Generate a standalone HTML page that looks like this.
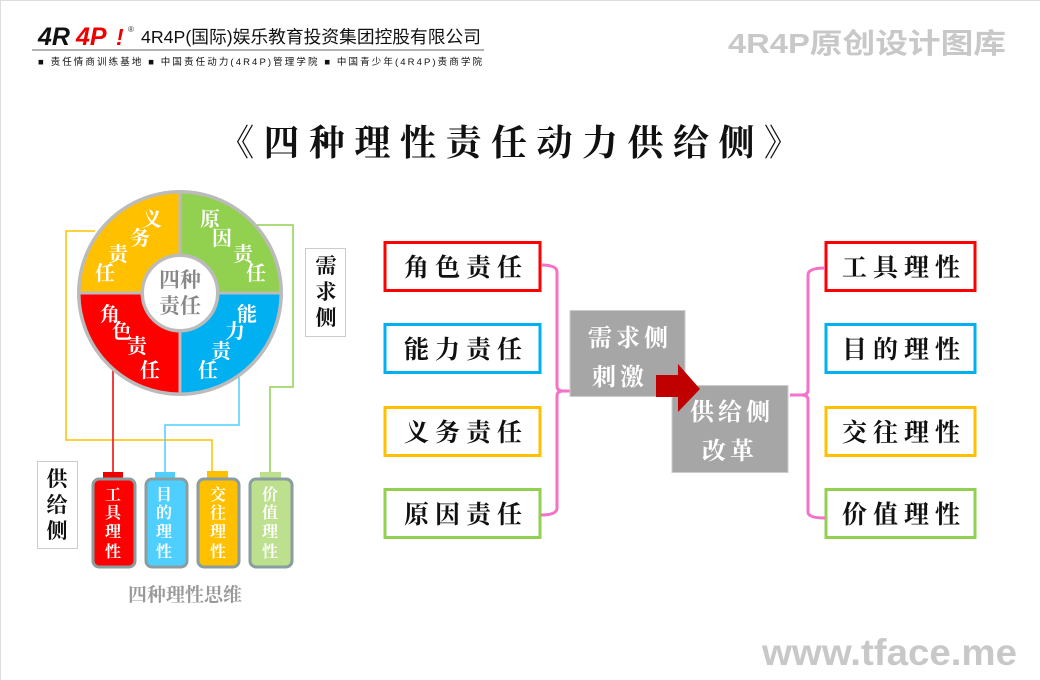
<!DOCTYPE html>
<html><head><meta charset="utf-8"><style>
html,body{margin:0;padding:0;background:#fff;}
svg{display:block;}
text{font-family:"Liberation Serif","Noto Serif CJK SC",serif;}
.s{font-family:"Liberation Sans","Noto Sans CJK SC",sans-serif;}
</style></head><body>
<svg width="1040" height="680" viewBox="0 0 1040 680" xmlns="http://www.w3.org/2000/svg">
<rect x="0" y="0" width="1040" height="680" fill="#fff"/>
<line x1="0" y1="0.5" x2="1040" y2="0.5" stroke="#ddd"/>
<line x1="0.5" y1="0" x2="0.5" y2="680" stroke="#ddd"/>
<!-- header -->
<text x="38" y="45" class="s" font-size="25" font-weight="bold" font-style="italic" fill="#111">4R</text>
<text x="76" y="45" class="s" font-size="25" font-weight="bold" font-style="italic" fill="#e00">4P</text>
<text x="116" y="45" class="s" font-size="23" font-weight="bold" font-style="italic" fill="#e00">!</text>
<text x="128" y="32" class="s" font-size="8" fill="#333">®</text>
<text x="141" y="43" class="s" font-size="17.5" fill="#111" textLength="340" lengthAdjust="spacingAndGlyphs">4R4P(国际)娱乐教育投资集团控股有限公司</text>
<line x1="32" y1="50" x2="484" y2="50" stroke="#999" stroke-width="1.5"/>
<text x="38" y="65" class="s" font-size="9.5" fill="#111" textLength="444" lengthAdjust="spacing">■ 责任情商训练基地 ■ 中国责任动力(4R4P)管理学院 ■ 中国青少年(4R4P)责商学院</text>
<text x="728" y="53" class="s" font-size="28" font-weight="bold" fill="#c8c8c8" textLength="278" lengthAdjust="spacingAndGlyphs">4R4P原创设计图库</text>
<text x="218" y="155" font-size="36" font-weight="bold" fill="#111" textLength="582" lengthAdjust="spacing">《四种理性责任动力供给侧》</text>

<!-- lines -->
<polyline points="95,231 66,231 66,440 212,440 212,472" fill="none" stroke="#ffc000" stroke-width="1.5"/>
<polyline points="255,225 293,225 293,387 270,387 270,472" fill="none" stroke="#92d050" stroke-width="1.5"/>
<polyline points="113,365 113,472" fill="none" stroke="#e00" stroke-width="1.5"/>
<polyline points="239,375 239,425 165,425 165,472" fill="none" stroke="#4fcfff" stroke-width="1.5"/>

<!-- ring -->
<circle cx="180" cy="293" r="103" fill="#bbb"/>
<g stroke="#bbb" stroke-width="3">
<path d="M79,293 A101,101 0 0 1 180,192 L180,255 A38,38 0 0 0 142,293 Z" fill="#ffc000"/>
<path d="M180,192 A101,101 0 0 1 281,293 L218,293 A38,38 0 0 0 180,255 Z" fill="#92d050"/>
<path d="M281,293 A101,101 0 0 1 180,394 L180,331 A38,38 0 0 0 218,293 Z" fill="#00b0f0"/>
<path d="M180,394 A101,101 0 0 1 79,293 L142,293 A38,38 0 0 0 180,331 Z" fill="#f00"/>
</g>
<circle cx="180" cy="293" r="37" fill="#fff" stroke="#bbb" stroke-width="2"/>
<g font-size="21" font-weight="bold" fill="#888" text-anchor="middle">
<text x="180" y="287">四种</text><text x="180" y="313">责任</text></g>
<g font-size="20" font-weight="bold" fill="#fff" text-anchor="middle">
<text x="152" y="226">义</text><text x="140" y="245">务</text><text x="118" y="261">责</text><text x="105" y="280">任</text>
<text x="210" y="226">原</text><text x="222" y="245">因</text><text x="243" y="261">责</text><text x="256" y="280">任</text>
<text x="110" y="321">角</text><text x="122" y="338">色</text><text x="137" y="353">责</text><text x="150" y="377">任</text>
<text x="247" y="321">能</text><text x="235" y="338">力</text><text x="221" y="358">责</text><text x="208" y="377">任</text>
</g>

<!-- side labels -->
<rect x="305.5" y="248.5" width="40" height="88" fill="#fff" stroke="#ccc"/>
<g font-size="21" font-weight="bold" fill="#111" text-anchor="middle"><text x="326" y="273">需</text><text x="326" y="299">求</text><text x="326" y="325">侧</text></g>
<rect x="37.5" y="461.5" width="40" height="87" fill="#fff" stroke="#ccc"/>
<g font-size="21" font-weight="bold" fill="#111" text-anchor="middle"><text x="57" y="486">供</text><text x="57" y="512">给</text><text x="57" y="538">侧</text></g>

<!-- batteries -->
<g>
<rect x="103" y="472" width="20" height="8" fill="#e00"/>
<rect x="93" y="479" width="42" height="88" rx="6" fill="#f00" stroke="#8a9ea0" stroke-width="3"/>
<rect x="155" y="472" width="20" height="8" fill="#4fcfff"/>
<rect x="146" y="479" width="41" height="88" rx="6" fill="#4fcfff" stroke="#8a9ea0" stroke-width="3"/>
<rect x="207" y="471" width="21" height="9" fill="#ffc000"/>
<rect x="198" y="479" width="41" height="88" rx="6" fill="#ffc000" stroke="#8a9ea0" stroke-width="3"/>
<rect x="260" y="472" width="21" height="8" fill="#bde08e"/>
<rect x="250" y="479" width="42" height="88" rx="6" fill="#bde08e" stroke="#8a9ea0" stroke-width="3"/>
</g>
<g font-size="16" font-weight="bold" fill="#fff" text-anchor="middle">
<text x="113" y="500">工</text><text x="113" y="518">具</text><text x="113" y="537">理</text><text x="113" y="557">性</text>
<text x="164" y="500">目</text><text x="164" y="518">的</text><text x="164" y="537">理</text><text x="164" y="557">性</text>
<text x="218" y="500">交</text><text x="218" y="518">往</text><text x="218" y="537">理</text><text x="218" y="557">性</text>
<text x="270" y="500">价</text><text x="270" y="518">值</text><text x="270" y="537">理</text><text x="270" y="557">性</text>
</g>
<text x="185" y="601" text-anchor="middle" font-size="19" font-weight="bold" fill="#999">四种理性思维</text>

<!-- boxes -->
<g fill="#fff" stroke-width="3">
<rect x="385" y="242.5" width="155" height="48" stroke="#f00"/>
<rect x="385" y="324.5" width="155" height="48" stroke="#00b0f0"/>
<rect x="385" y="407.5" width="155" height="48" stroke="#ffc000"/>
<rect x="385" y="489.5" width="155" height="48" stroke="#92d050"/>
<rect x="826" y="242.5" width="149" height="48" stroke="#f00"/>
<rect x="826" y="324.5" width="149" height="48" stroke="#00b0f0"/>
<rect x="826" y="407.5" width="149" height="48" stroke="#ffc000"/>
<rect x="826" y="489.5" width="149" height="48" stroke="#92d050"/>
</g>
<g font-size="25" font-weight="bold" fill="#111" text-anchor="middle" letter-spacing="6">
<text x="466" y="276">角色责任</text><text x="466" y="358">能力责任</text><text x="466" y="441">义务责任</text><text x="466" y="523">原因责任</text>
<text x="904" y="276">工具理性</text><text x="904" y="358">目的理性</text><text x="904" y="441">交往理性</text><text x="904" y="523">价值理性</text>
</g>
<!-- brackets -->
<g fill="none" stroke="#f472c8" stroke-width="3">
<path d="M541,265 Q557,265 557,272 L557,386 Q557,391 563,391 Q557,391 557,396 L557,508 Q557,515 541,515"/>
<line x1="563" y1="391" x2="573" y2="391"/>
<path d="M825,268 Q808,268 808,275 L808,390 Q808,395 802,395 Q808,395 808,400 L808,512 Q808,518 825,518"/>
<line x1="790" y1="395" x2="802" y2="395"/>
</g>
<!-- gray boxes -->
<rect x="570" y="310.5" width="115" height="86" fill="#a6a6a6" stroke="#ccc"/>
<rect x="672" y="385.5" width="116" height="87" fill="#a6a6a6" stroke="#ccc"/>
<g font-size="24" font-weight="bold" fill="#fff" text-anchor="middle" letter-spacing="4">
<text x="630" y="346">需求侧</text><text x="620" y="385">刺激</text>
<text x="732" y="420">供给侧</text><text x="730" y="459">改革</text>
</g>
<polygon points="656,375 678,375 678,364 700,389 678,412 678,397 656,397" fill="#c00000"/>

<text x="1017" y="665" text-anchor="end" class="s" font-size="37" font-weight="bold" fill="#c8c8c8" textLength="255" lengthAdjust="spacingAndGlyphs">www.tface.me</text>
</svg>
</body></html>
